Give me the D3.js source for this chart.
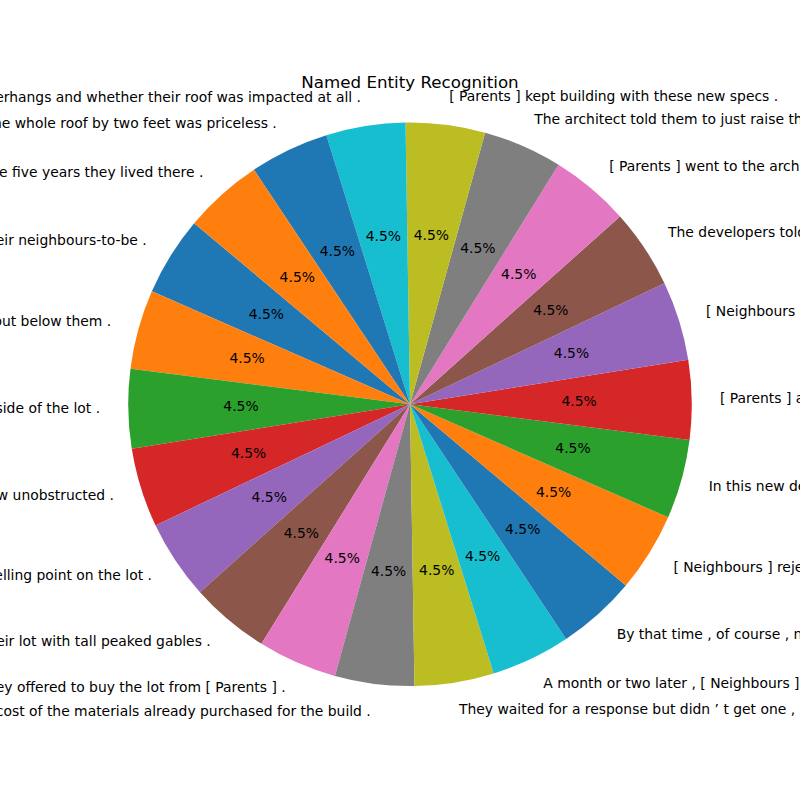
<!DOCTYPE html>
<html>
<head>
<meta charset="utf-8">
<script src="https://cdn.jsdelivr.net/npm/d3@7"></script>
<style>
  html, body { margin: 0; padding: 0; background: #fff; }
  svg { display: block; font-family: "DejaVu Sans", sans-serif; }
</style>
</head>
<body>
<svg id="chart" width="800" height="800"></svg>
<script>
// ---- data ----
const title = "Named Entity Recognition";
const labels = [
  "eir neighbours-to-be .",
  "out below them .",
  "side of the lot .",
  "w unobstructed .",
  "elling point on the lot .",
  "eir lot with tall peaked gables .",
  "ey offered to buy the lot from [ Parents ] .",
  "cost of the materials already purchased for the build .",
  "They waited for a response but didn \u2019 t get one ,",
  "A month or two later , [ Neighbours ]",
  "By that time , of course , n",
  "[ Neighbours ] reje",
  "In this new de",
  "[ Parents ] a",
  "[ Neighbours ",
  "The developers told",
  "[ Parents ] went to the arch",
  "The architect told them to just raise th",
  "[ Parents ] kept building with these new specs .",
  "erhangs and whether their roof was impacted at all .",
  "he whole roof by two feet was priceless .",
  "e five years they lived there ."
];
const values = [1,1,1,1,1,1,1,1,1,1,1,1,1,1,1,1,1,1,1,1,1,1];
const colors = ["#1f77b4","#ff7f0e","#2ca02c","#d62728","#9467bd","#8c564b","#e377c2","#7f7f7f","#bcbd22","#17becf"];
const startAngleDeg = 140; // matplotlib-style start angle, counterclockwise

// ---- layout ----
const cx = 410, cy = 404.3, R = 281.8;
const svg = d3.select("#chart");
const g = svg.append("g").attr("transform", `translate(${cx},${cy})`);

const toRad = d => d * Math.PI / 180;
const a0 = toRad(90 - startAngleDeg);
const pie = d3.pie().sort(null).value(d => d.v)
  .startAngle(a0).endAngle(a0 - 2 * Math.PI);

const data = labels.map((l, i) => ({ label: l, v: values[i], i }));
const arcs = pie(data);
const total = d3.sum(values);

const arc = d3.arc().innerRadius(0).outerRadius(R);
const labelArc = d3.arc().innerRadius(R * 1.1).outerRadius(R * 1.1);
const pctArc = d3.arc().innerRadius(R * 0.6).outerRadius(R * 0.6);
const color = d3.scaleOrdinal().domain(d3.range(colors.length)).range(colors);

g.selectAll("path.wedge").data(arcs).enter().append("path")
  .attr("class", "wedge")
  .attr("d", arc)
  .attr("fill", d => color(d.data.i % colors.length));

g.selectAll("text.pct").data(arcs).enter().append("text")
  .attr("class", "pct")
  .attr("transform", d => `translate(${pctArc.centroid(d)})`)
  .attr("text-anchor", "middle")
  .attr("dy", "0.28em")
  .attr("font-size", "13.9px")
  .attr("fill", "#000")
  .text(d => d3.format(".1f")(d.data.v / total * 100) + "%");

g.selectAll("text.lbl").data(arcs).enter().append("text")
  .attr("class", "lbl")
  .attr("transform", d => `translate(${labelArc.centroid(d)})`)
  .attr("text-anchor", d => labelArc.centroid(d)[0] > 0 ? "start" : "end")
  .attr("dy", "0.28em")
  .attr("font-size", "13.9px")
  .attr("fill", "#000")
  .attr("xml:space", "preserve")
  .style("white-space", "pre")
  .text(d => d.data.label);

svg.append("text")
  .attr("x", cx)
  .attr("y", 88)
  .attr("text-anchor", "middle")
  .attr("font-size", "16.7px")
  .attr("fill", "#000")
  .text(title);
</script>
</body>
</html>
